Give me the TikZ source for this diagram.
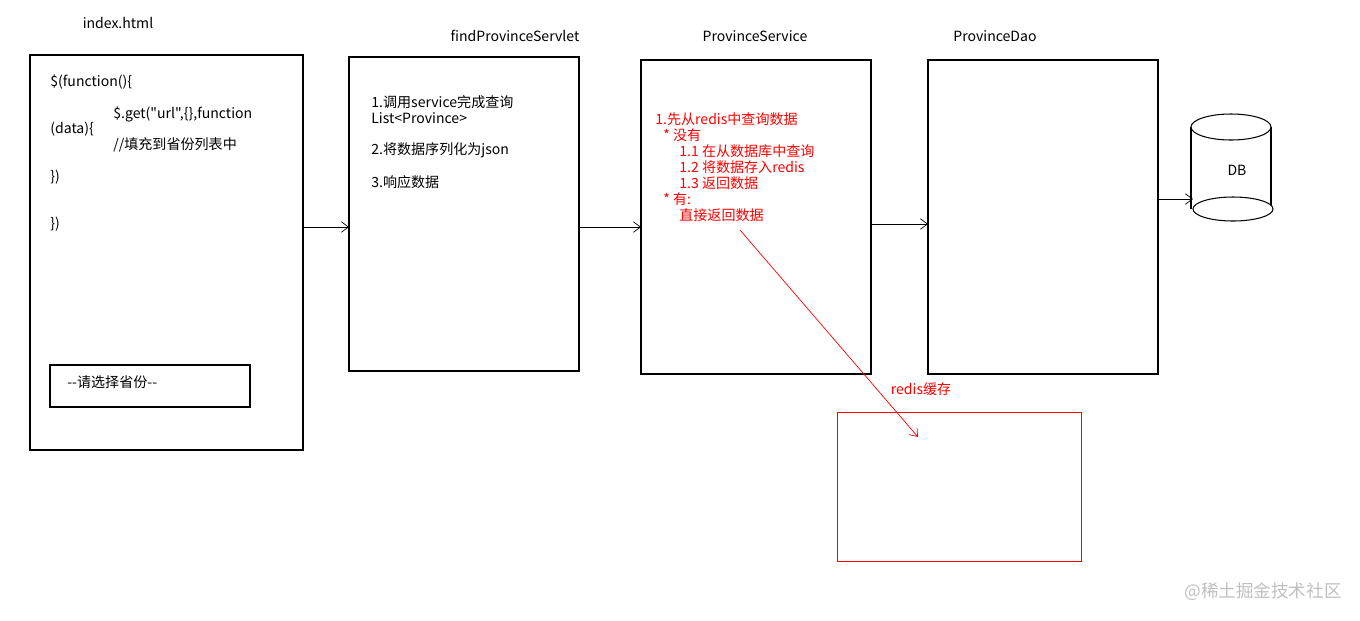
\documentclass[tikz,border=0pt]{standalone}
\usepackage{fontspec}
\newfontfamily\cjk{Noto Sans CJK SC}
\usetikzlibrary{arrows.meta, positioning}

\begin{document}
\begin{tikzpicture}[x=0.02cm, y=-0.02cm,
            box/.style={draw, line width=0.6pt, rectangle},
            txt/.style={anchor=west, inner sep=0pt, font=\cjk\fontsize{8}{9}\selectfont},
            red txt/.style={txt, red},
            flow/.style={-{Straight Barb[length=4pt, width=6pt]}}
        ]
            \useasboundingbox (0,0) rectangle (1360,620);

            % boxes
            \draw[box] (30,55) rectangle (303,450);
            \draw[box] (50,365) rectangle (250,407);
            \draw[box] (349,57) rectangle (579,371);
            \draw[box] (641,60) rectangle (871,374);
            \draw[box] (928,60) rectangle (1158,374);
            \draw[red] (837,412) rectangle (1081,561);

            % headings
            \node[txt, anchor=center] (idx) at (118,23) {index.html};
            \node[txt, anchor=center] (srvlt) at (515,36) {findProvinceServlet};
            \node[txt, anchor=center] (srv) at (755,36) {ProvinceService};
            \node[txt, anchor=center] (dao) at (995,36) {ProvinceDao};
            \node[red txt, anchor=center] (cache) at (921,389) {redis缓存};

            % index.html
            \node[txt] (l1) at (50,82) {\$(function()\{};
            \node[txt] (l2) at (113,114) {\$.get("url",\{\},function};
            \node[txt] (l3) at (50,129) {(data)\{};
            \node[txt] (l4) at (113,145) {//填充到省份列表中};
            \node[txt] (l5) at (50,177) {\})};
            \node[txt] (l6) at (50,224) {\})};
            \node[txt] (sel) at (67,382) {--请选择省份--};

            % servlet
            \node[txt] (s1) at (371,102) {1.调用service完成查询};
            \node[txt] (s2) at (371,118) {List<Province>};
            \node[txt] (s3) at (371,150) {2.将数据序列化为json};
            \node[txt] (s4) at (371,182) {3.响应数据};

            % service
            \node[red txt] (r1) at (655,119) {1.先从redis中查询数据};
            \node[red txt] (r2) at (663,135) {* 没有};
            \node[red txt] (r3) at (679,151) {1.1 在从数据库中查询};
            \node[red txt] (r4) at (679,167) {1.2 将数据存入redis};
            \node[red txt] (r5) at (679,183) {1.3 返回数据};
            \node[red txt] (r6) at (663,199) {* 有:};
            \node[red txt] (r7) at (679,215) {直接返回数据};

            % DB
            \draw[line width=0.6pt] (1191,127) -- (1191,209) (1271,127) -- (1271,209);
            \draw[line width=0.6pt, fill=white] (1231,127) ellipse [x radius=40, y radius=13];
            \draw[line width=0.6pt, fill=white] (1233,209) ellipse [x radius=40, y radius=12];
            \node[txt, anchor=center] (db) at (1237,170) {DB};

            % connectors
            \coordinate (a0) at (303,227); \coordinate (a1) at (349,227);
            \coordinate (b0) at (579,227); \coordinate (b1) at (641,227);
            \coordinate (c0) at (871,224); \coordinate (c1) at (928,224);
            \coordinate (d0) at (1158,199); \coordinate (d1) at (1193,199);
            \coordinate (e0) at (740,230); \coordinate (e1) at (918,437);
            \draw[flow] (a0) -- (a1);
            \draw[flow] (b0) -- (b1);
            \draw[flow] (c0) -- (c1);
            \draw[flow] (d0) -- (d1);
            \draw[flow, red] (e0) -- (e1);

            \node[txt, gray!50, anchor=east, font=\cjk\fontsize{10}{12}\selectfont] (wm) at (1342,592) {@稀土掘金技术社区};
        \end{tikzpicture}
\end{document}
